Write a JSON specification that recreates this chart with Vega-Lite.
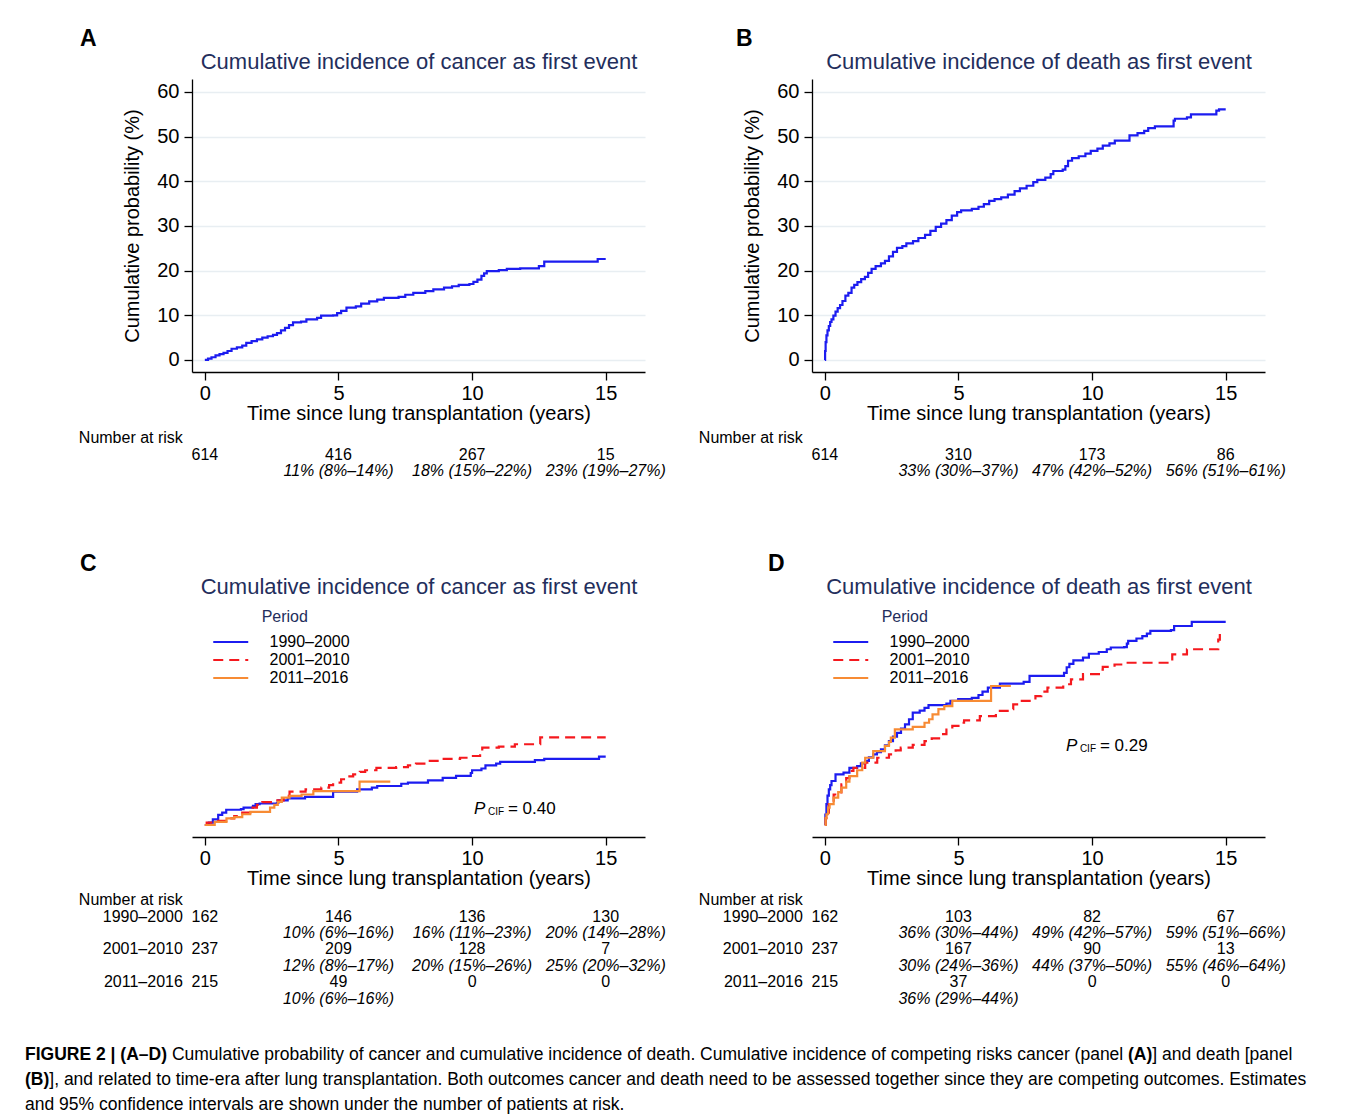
{
  "$schema": "https://vega.github.io/schema/vega-lite/v6.json",
  "background": "white",
  "padding": {"left": 25, "top": 28, "right": 10, "bottom": 0},
  "autosize": {"type": "pad"},
  "columns": 2,
  "spacing": {"row": 0, "column": 167},
  "bounds": "flush",
  "resolve": {"scale": {"x": "independent", "y": "independent", "color": "independent", "strokeDash": "independent"}, "legend": {"color": "independent", "strokeDash": "independent"}},
  "datasets": {
    "curves": [
      {"panel":"A","period":"All","t":0,"p":0},{"panel":"A","period":"All","t":0.12,"p":0.3},{"panel":"A","period":"All","t":0.25,"p":0.6},{"panel":"A","period":"All","t":0.4,"p":1.0},{"panel":"A","period":"All","t":0.55,"p":1.3},{"panel":"A","period":"All","t":0.7,"p":1.6},{"panel":"A","period":"All","t":0.85,"p":2.0},{"panel":"A","period":"All","t":1.0,"p":2.5},{"panel":"A","period":"All","t":1.2,"p":2.8},{"panel":"A","period":"All","t":1.4,"p":3.2},{"panel":"A","period":"All","t":1.55,"p":3.8},{"panel":"A","period":"All","t":1.75,"p":4.2},{"panel":"A","period":"All","t":1.95,"p":4.6},{"panel":"A","period":"All","t":2.15,"p":5.0},{"panel":"A","period":"All","t":2.35,"p":5.3},{"panel":"A","period":"All","t":2.55,"p":5.6},{"panel":"A","period":"All","t":2.7,"p":6.0},{"panel":"A","period":"All","t":2.85,"p":6.6},{"panel":"A","period":"All","t":3.0,"p":7.2},{"panel":"A","period":"All","t":3.15,"p":7.8},{"panel":"A","period":"All","t":3.3,"p":8.4},{"panel":"A","period":"All","t":3.6,"p":8.6},{"panel":"A","period":"All","t":3.8,"p":9.1},{"panel":"A","period":"All","t":4.2,"p":9.4},{"panel":"A","period":"All","t":4.35,"p":9.9},{"panel":"A","period":"All","t":4.8,"p":10.0},{"panel":"A","period":"All","t":4.95,"p":10.5},{"panel":"A","period":"All","t":5.1,"p":11.0},{"panel":"A","period":"All","t":5.3,"p":11.7},{"panel":"A","period":"All","t":5.65,"p":12.0},{"panel":"A","period":"All","t":5.85,"p":12.6},{"panel":"A","period":"All","t":6.15,"p":13.1},{"panel":"A","period":"All","t":6.45,"p":13.5},{"panel":"A","period":"All","t":6.7,"p":13.9},{"panel":"A","period":"All","t":7.25,"p":14.1},{"panel":"A","period":"All","t":7.5,"p":14.6},{"panel":"A","period":"All","t":7.8,"p":15.0},{"panel":"A","period":"All","t":8.25,"p":15.4},{"panel":"A","period":"All","t":8.55,"p":15.8},{"panel":"A","period":"All","t":8.95,"p":16.2},{"panel":"A","period":"All","t":9.25,"p":16.5},{"panel":"A","period":"All","t":9.5,"p":16.8},{"panel":"A","period":"All","t":9.9,"p":17.0},{"panel":"A","period":"All","t":10.05,"p":17.5},{"panel":"A","period":"All","t":10.2,"p":18.0},{"panel":"A","period":"All","t":10.35,"p":18.8},{"panel":"A","period":"All","t":10.45,"p":19.4},{"panel":"A","period":"All","t":10.55,"p":19.9},{"panel":"A","period":"All","t":11.0,"p":20.1},{"panel":"A","period":"All","t":11.3,"p":20.4},{"panel":"A","period":"All","t":11.8,"p":20.5},{"panel":"A","period":"All","t":12.5,"p":21.0},{"panel":"A","period":"All","t":12.7,"p":22.0},{"panel":"A","period":"All","t":14.7,"p":22.6},{"panel":"A","period":"All","t":15.0,"p":22.6},
      {"panel":"B","period":"All","t":0,"p":0},{"panel":"B","period":"All","t":0.01,"p":2.0},{"panel":"B","period":"All","t":0.03,"p":4.0},{"panel":"B","period":"All","t":0.06,"p":5.5},{"panel":"B","period":"All","t":0.1,"p":6.6},{"panel":"B","period":"All","t":0.15,"p":7.6},{"panel":"B","period":"All","t":0.2,"p":8.5},{"panel":"B","period":"All","t":0.25,"p":9.1},{"panel":"B","period":"All","t":0.32,"p":9.9},{"panel":"B","period":"All","t":0.4,"p":10.8},{"panel":"B","period":"All","t":0.48,"p":11.6},{"panel":"B","period":"All","t":0.57,"p":12.3},{"panel":"B","period":"All","t":0.66,"p":13.2},{"panel":"B","period":"All","t":0.77,"p":14.4},{"panel":"B","period":"All","t":0.88,"p":15.0},{"panel":"B","period":"All","t":1.0,"p":16.2},{"panel":"B","period":"All","t":1.1,"p":16.8},{"panel":"B","period":"All","t":1.22,"p":17.4},{"panel":"B","period":"All","t":1.36,"p":18.1},{"panel":"B","period":"All","t":1.5,"p":18.6},{"panel":"B","period":"All","t":1.62,"p":19.5},{"panel":"B","period":"All","t":1.75,"p":20.4},{"panel":"B","period":"All","t":1.9,"p":21.0},{"panel":"B","period":"All","t":2.1,"p":21.6},{"panel":"B","period":"All","t":2.25,"p":22.2},{"panel":"B","period":"All","t":2.4,"p":23.2},{"panel":"B","period":"All","t":2.55,"p":24.2},{"panel":"B","period":"All","t":2.7,"p":25.1},{"panel":"B","period":"All","t":2.9,"p":25.5},{"panel":"B","period":"All","t":3.05,"p":26.1},{"panel":"B","period":"All","t":3.3,"p":26.6},{"panel":"B","period":"All","t":3.5,"p":27.3},{"panel":"B","period":"All","t":3.75,"p":28.0},{"panel":"B","period":"All","t":3.95,"p":28.9},{"panel":"B","period":"All","t":4.15,"p":29.8},{"panel":"B","period":"All","t":4.35,"p":30.5},{"panel":"B","period":"All","t":4.55,"p":31.3},{"panel":"B","period":"All","t":4.75,"p":32.3},{"panel":"B","period":"All","t":4.95,"p":33.1},{"panel":"B","period":"All","t":5.1,"p":33.5},{"panel":"B","period":"All","t":5.5,"p":33.8},{"panel":"B","period":"All","t":5.75,"p":34.3},{"panel":"B","period":"All","t":5.95,"p":34.9},{"panel":"B","period":"All","t":6.15,"p":35.6},{"panel":"B","period":"All","t":6.35,"p":36.0},{"panel":"B","period":"All","t":6.6,"p":36.4},{"panel":"B","period":"All","t":6.85,"p":37.0},{"panel":"B","period":"All","t":7.1,"p":37.8},{"panel":"B","period":"All","t":7.3,"p":38.4},{"panel":"B","period":"All","t":7.55,"p":39.0},{"panel":"B","period":"All","t":7.8,"p":39.8},{"panel":"B","period":"All","t":7.95,"p":40.3},{"panel":"B","period":"All","t":8.25,"p":40.8},{"panel":"B","period":"All","t":8.45,"p":41.6},{"panel":"B","period":"All","t":8.55,"p":42.3},{"panel":"B","period":"All","t":8.9,"p":42.6},{"panel":"B","period":"All","t":9.0,"p":43.4},{"panel":"B","period":"All","t":9.1,"p":44.6},{"panel":"B","period":"All","t":9.25,"p":45.2},{"panel":"B","period":"All","t":9.5,"p":45.6},{"panel":"B","period":"All","t":9.75,"p":46.2},{"panel":"B","period":"All","t":9.95,"p":46.8},{"panel":"B","period":"All","t":10.2,"p":47.3},{"panel":"B","period":"All","t":10.4,"p":48.0},{"panel":"B","period":"All","t":10.65,"p":48.5},{"panel":"B","period":"All","t":10.85,"p":49.1},{"panel":"B","period":"All","t":11.4,"p":50.3},{"panel":"B","period":"All","t":11.7,"p":50.8},{"panel":"B","period":"All","t":11.95,"p":51.3},{"panel":"B","period":"All","t":12.1,"p":51.9},{"panel":"B","period":"All","t":12.35,"p":52.3},{"panel":"B","period":"All","t":13.05,"p":53.6},{"panel":"B","period":"All","t":13.1,"p":54.0},{"panel":"B","period":"All","t":13.55,"p":54.3},{"panel":"B","period":"All","t":13.7,"p":55.0},{"panel":"B","period":"All","t":14.65,"p":55.8},{"panel":"B","period":"All","t":14.75,"p":56.1},{"panel":"B","period":"All","t":15.0,"p":56.1},
      {"panel":"C","period":"1990–2000","t":0,"p":0},{"panel":"C","period":"1990–2000","t":0.15,"p":0.7},{"panel":"C","period":"1990–2000","t":0.3,"p":1.6},{"panel":"C","period":"1990–2000","t":0.5,"p":2.9},{"panel":"C","period":"1990–2000","t":0.65,"p":3.6},{"panel":"C","period":"1990–2000","t":0.8,"p":4.4},{"panel":"C","period":"1990–2000","t":1.35,"p":4.6},{"panel":"C","period":"1990–2000","t":1.45,"p":5.0},{"panel":"C","period":"1990–2000","t":1.8,"p":5.5},{"panel":"C","period":"1990–2000","t":1.9,"p":6.0},{"panel":"C","period":"1990–2000","t":2.05,"p":6.2},{"panel":"C","period":"1990–2000","t":2.7,"p":6.4},{"panel":"C","period":"1990–2000","t":2.75,"p":7.1},{"panel":"C","period":"1990–2000","t":3.1,"p":7.7},{"panel":"C","period":"1990–2000","t":3.75,"p":8.1},{"panel":"C","period":"1990–2000","t":4.8,"p":9.6},{"panel":"C","period":"1990–2000","t":5.7,"p":10.3},{"panel":"C","period":"1990–2000","t":6.25,"p":10.8},{"panel":"C","period":"1990–2000","t":6.45,"p":11.25},{"panel":"C","period":"1990–2000","t":7.35,"p":11.9},{"panel":"C","period":"1990–2000","t":7.6,"p":12.2},{"panel":"C","period":"1990–2000","t":8.35,"p":12.9},{"panel":"C","period":"1990–2000","t":8.9,"p":13.6},{"panel":"C","period":"1990–2000","t":9.4,"p":14.2},{"panel":"C","period":"1990–2000","t":9.95,"p":15.0},{"panel":"C","period":"1990–2000","t":10.0,"p":15.8},{"panel":"C","period":"1990–2000","t":10.35,"p":16.3},{"panel":"C","period":"1990–2000","t":10.5,"p":17.2},{"panel":"C","period":"1990–2000","t":10.9,"p":17.7},{"panel":"C","period":"1990–2000","t":11.05,"p":18.2},{"panel":"C","period":"1990–2000","t":12.35,"p":18.7},{"panel":"C","period":"1990–2000","t":12.7,"p":19.1},{"panel":"C","period":"1990–2000","t":14.75,"p":19.7},{"panel":"C","period":"1990–2000","t":15.0,"p":19.7},
      {"panel":"C","period":"2001–2010","t":0,"p":0},{"panel":"C","period":"2001–2010","t":0.07,"p":0.7},{"panel":"C","period":"2001–2010","t":0.5,"p":1.2},{"panel":"C","period":"2001–2010","t":0.8,"p":1.9},{"panel":"C","period":"2001–2010","t":1.1,"p":2.6},{"panel":"C","period":"2001–2010","t":1.4,"p":3.6},{"panel":"C","period":"2001–2010","t":1.7,"p":5.0},{"panel":"C","period":"2001–2010","t":1.95,"p":5.8},{"panel":"C","period":"2001–2010","t":2.15,"p":6.6},{"panel":"C","period":"2001–2010","t":2.6,"p":7.1},{"panel":"C","period":"2001–2010","t":2.95,"p":8.4},{"panel":"C","period":"2001–2010","t":3.17,"p":9.6},{"panel":"C","period":"2001–2010","t":3.77,"p":10.3},{"panel":"C","period":"2001–2010","t":4.36,"p":10.8},{"panel":"C","period":"2001–2010","t":4.65,"p":11.5},{"panel":"C","period":"2001–2010","t":4.8,"p":12.2},{"panel":"C","period":"2001–2010","t":5.1,"p":13.2},{"panel":"C","period":"2001–2010","t":5.35,"p":14.0},{"panel":"C","period":"2001–2010","t":5.55,"p":14.6},{"panel":"C","period":"2001–2010","t":5.8,"p":15.3},{"panel":"C","period":"2001–2010","t":6.0,"p":15.8},{"panel":"C","period":"2001–2010","t":6.42,"p":16.5},{"panel":"C","period":"2001–2010","t":7.16,"p":16.7},{"panel":"C","period":"2001–2010","t":7.6,"p":17.2},{"panel":"C","period":"2001–2010","t":7.9,"p":17.7},{"panel":"C","period":"2001–2010","t":8.35,"p":18.5},{"panel":"C","period":"2001–2010","t":8.8,"p":19.1},{"panel":"C","period":"2001–2010","t":9.55,"p":19.4},{"panel":"C","period":"2001–2010","t":9.97,"p":19.9},{"panel":"C","period":"2001–2010","t":10.3,"p":21.2},{"panel":"C","period":"2001–2010","t":10.38,"p":22.3},{"panel":"C","period":"2001–2010","t":11.0,"p":22.6},{"panel":"C","period":"2001–2010","t":11.6,"p":23.3},{"panel":"C","period":"2001–2010","t":12.55,"p":25.3},{"panel":"C","period":"2001–2010","t":15.0,"p":25.3},
      {"panel":"C","period":"2011–2016","t":0,"p":0},{"panel":"C","period":"2011–2016","t":0.37,"p":0.9},{"panel":"C","period":"2011–2016","t":0.81,"p":1.9},{"panel":"C","period":"2011–2016","t":1.1,"p":2.3},{"panel":"C","period":"2011–2016","t":1.4,"p":3.1},{"panel":"C","period":"2011–2016","t":1.7,"p":3.8},{"panel":"C","period":"2011–2016","t":2.44,"p":5.0},{"panel":"C","period":"2011–2016","t":2.6,"p":5.8},{"panel":"C","period":"2011–2016","t":2.73,"p":6.7},{"panel":"C","period":"2011–2016","t":2.88,"p":7.9},{"panel":"C","period":"2011–2016","t":3.17,"p":8.4},{"panel":"C","period":"2011–2016","t":3.62,"p":8.8},{"panel":"C","period":"2011–2016","t":4.06,"p":9.8},{"panel":"C","period":"2011–2016","t":5.79,"p":12.5},{"panel":"C","period":"2011–2016","t":6.94,"p":12.5},
      {"panel":"D","period":"1990–2000","t":0,"p":0},{"panel":"D","period":"1990–2000","t":0.02,"p":3.0},{"panel":"D","period":"1990–2000","t":0.06,"p":6.0},{"panel":"D","period":"1990–2000","t":0.1,"p":8.5},{"panel":"D","period":"1990–2000","t":0.15,"p":10.3},{"panel":"D","period":"1990–2000","t":0.2,"p":11.5},{"panel":"D","period":"1990–2000","t":0.25,"p":12.7},{"panel":"D","period":"1990–2000","t":0.4,"p":14.6},{"panel":"D","period":"1990–2000","t":0.7,"p":15.1},{"panel":"D","period":"1990–2000","t":0.92,"p":16.5},{"panel":"D","period":"1990–2000","t":1.21,"p":17.0},{"panel":"D","period":"1990–2000","t":1.35,"p":17.8},{"panel":"D","period":"1990–2000","t":1.51,"p":18.5},{"panel":"D","period":"1990–2000","t":1.65,"p":19.5},{"panel":"D","period":"1990–2000","t":1.81,"p":20.4},{"panel":"D","period":"1990–2000","t":1.95,"p":21.0},{"panel":"D","period":"1990–2000","t":2.1,"p":21.8},{"panel":"D","period":"1990–2000","t":2.25,"p":23.0},{"panel":"D","period":"1990–2000","t":2.4,"p":24.2},{"panel":"D","period":"1990–2000","t":2.55,"p":25.5},{"panel":"D","period":"1990–2000","t":2.7,"p":26.6},{"panel":"D","period":"1990–2000","t":2.85,"p":27.8},{"panel":"D","period":"1990–2000","t":3.0,"p":29.0},{"panel":"D","period":"1990–2000","t":3.15,"p":30.5},{"panel":"D","period":"1990–2000","t":3.29,"p":32.4},{"panel":"D","period":"1990–2000","t":3.55,"p":33.0},{"panel":"D","period":"1990–2000","t":3.73,"p":33.8},{"panel":"D","period":"1990–2000","t":3.88,"p":34.6},{"panel":"D","period":"1990–2000","t":4.55,"p":35.0},{"panel":"D","period":"1990–2000","t":4.7,"p":35.8},{"panel":"D","period":"1990–2000","t":4.99,"p":36.3},{"panel":"D","period":"1990–2000","t":5.5,"p":36.7},{"panel":"D","period":"1990–2000","t":5.75,"p":37.5},{"panel":"D","period":"1990–2000","t":5.9,"p":38.5},{"panel":"D","period":"1990–2000","t":6.1,"p":39.6},{"panel":"D","period":"1990–2000","t":6.55,"p":40.8},{"panel":"D","period":"1990–2000","t":7.44,"p":41.3},{"panel":"D","period":"1990–2000","t":7.66,"p":43.0},{"panel":"D","period":"1990–2000","t":8.95,"p":43.9},{"panel":"D","period":"1990–2000","t":9.05,"p":45.5},{"panel":"D","period":"1990–2000","t":9.15,"p":46.5},{"panel":"D","period":"1990–2000","t":9.3,"p":47.5},{"panel":"D","period":"1990–2000","t":9.66,"p":48.3},{"panel":"D","period":"1990–2000","t":9.88,"p":49.4},{"panel":"D","period":"1990–2000","t":10.25,"p":49.9},{"panel":"D","period":"1990–2000","t":10.55,"p":50.7},{"panel":"D","period":"1990–2000","t":10.7,"p":51.2},{"panel":"D","period":"1990–2000","t":11.2,"p":51.3},{"panel":"D","period":"1990–2000","t":11.3,"p":52.3},{"panel":"D","period":"1990–2000","t":11.35,"p":53.1},{"panel":"D","period":"1990–2000","t":11.66,"p":53.8},{"panel":"D","period":"1990–2000","t":11.88,"p":54.5},{"panel":"D","period":"1990–2000","t":12.05,"p":55.2},{"panel":"D","period":"1990–2000","t":12.18,"p":56.0},{"panel":"D","period":"1990–2000","t":12.95,"p":56.2},{"panel":"D","period":"1990–2000","t":13.07,"p":57.4},{"panel":"D","period":"1990–2000","t":13.73,"p":58.6},{"panel":"D","period":"1990–2000","t":15.0,"p":58.6},
      {"panel":"D","period":"2001–2010","t":0,"p":0},{"panel":"D","period":"2001–2010","t":0.03,"p":2.0},{"panel":"D","period":"2001–2010","t":0.06,"p":3.6},{"panel":"D","period":"2001–2010","t":0.15,"p":6.0},{"panel":"D","period":"2001–2010","t":0.33,"p":8.8},{"panel":"D","period":"2001–2010","t":0.62,"p":11.7},{"panel":"D","period":"2001–2010","t":0.8,"p":13.5},{"panel":"D","period":"2001–2010","t":0.92,"p":15.6},{"panel":"D","period":"2001–2010","t":1.07,"p":16.5},{"panel":"D","period":"2001–2010","t":1.51,"p":18.0},{"panel":"D","period":"2001–2010","t":1.96,"p":19.4},{"panel":"D","period":"2001–2010","t":2.4,"p":20.4},{"panel":"D","period":"2001–2010","t":2.65,"p":21.5},{"panel":"D","period":"2001–2010","t":2.84,"p":22.3},{"panel":"D","period":"2001–2010","t":3.29,"p":23.1},{"panel":"D","period":"2001–2010","t":3.73,"p":24.2},{"panel":"D","period":"2001–2010","t":4.0,"p":25.0},{"panel":"D","period":"2001–2010","t":4.33,"p":26.2},{"panel":"D","period":"2001–2010","t":4.55,"p":27.5},{"panel":"D","period":"2001–2010","t":4.77,"p":28.6},{"panel":"D","period":"2001–2010","t":5.0,"p":29.5},{"panel":"D","period":"2001–2010","t":5.21,"p":30.2},{"panel":"D","period":"2001–2010","t":5.8,"p":31.4},{"panel":"D","period":"2001–2010","t":6.4,"p":32.9},{"panel":"D","period":"2001–2010","t":6.84,"p":33.4},{"panel":"D","period":"2001–2010","t":7.05,"p":34.8},{"panel":"D","period":"2001–2010","t":7.29,"p":35.8},{"panel":"D","period":"2001–2010","t":7.88,"p":37.2},{"panel":"D","period":"2001–2010","t":8.1,"p":38.5},{"panel":"D","period":"2001–2010","t":8.33,"p":39.6},{"panel":"D","period":"2001–2010","t":8.92,"p":40.6},{"panel":"D","period":"2001–2010","t":9.21,"p":42.0},{"panel":"D","period":"2001–2010","t":9.66,"p":43.5},{"panel":"D","period":"2001–2010","t":10.3,"p":44.8},{"panel":"D","period":"2001–2010","t":10.4,"p":45.6},{"panel":"D","period":"2001–2010","t":10.84,"p":46.3},{"panel":"D","period":"2001–2010","t":11.29,"p":46.8},{"panel":"D","period":"2001–2010","t":13.0,"p":49.2},{"panel":"D","period":"2001–2010","t":13.55,"p":50.7},{"panel":"D","period":"2001–2010","t":14.72,"p":53.5},{"panel":"D","period":"2001–2010","t":14.78,"p":55.2},
      {"panel":"D","period":"2011–2016","t":0,"p":0},{"panel":"D","period":"2011–2016","t":0.03,"p":2.0},{"panel":"D","period":"2011–2016","t":0.06,"p":3.1},{"panel":"D","period":"2011–2016","t":0.12,"p":5.0},{"panel":"D","period":"2011–2016","t":0.18,"p":6.0},{"panel":"D","period":"2011–2016","t":0.33,"p":7.9},{"panel":"D","period":"2011–2016","t":0.5,"p":9.5},{"panel":"D","period":"2011–2016","t":0.62,"p":10.8},{"panel":"D","period":"2011–2016","t":0.8,"p":12.5},{"panel":"D","period":"2011–2016","t":0.92,"p":14.1},{"panel":"D","period":"2011–2016","t":1.21,"p":15.8},{"panel":"D","period":"2011–2016","t":1.4,"p":18.0},{"panel":"D","period":"2011–2016","t":1.51,"p":19.4},{"panel":"D","period":"2011–2016","t":1.81,"p":21.3},{"panel":"D","period":"2011–2016","t":2.25,"p":22.8},{"panel":"D","period":"2011–2016","t":2.4,"p":24.0},{"panel":"D","period":"2011–2016","t":2.47,"p":25.2},{"panel":"D","period":"2011–2016","t":2.62,"p":27.6},{"panel":"D","period":"2011–2016","t":3.29,"p":28.3},{"panel":"D","period":"2011–2016","t":3.73,"p":29.5},{"panel":"D","period":"2011–2016","t":3.9,"p":30.5},{"panel":"D","period":"2011–2016","t":4.03,"p":31.9},{"panel":"D","period":"2011–2016","t":4.25,"p":33.4},{"panel":"D","period":"2011–2016","t":4.47,"p":34.3},{"panel":"D","period":"2011–2016","t":4.77,"p":35.8},{"panel":"D","period":"2011–2016","t":6.22,"p":40.1},{"panel":"D","period":"2011–2016","t":6.92,"p":40.4}
    ],
    "notes": [
      {"panel":"C","t":10.07,"p":4.6,"pval":"= 0.40"},
      {"panel":"D","t":9.02,"p":22.8,"pval":"= 0.29"}
    ],
    "risk": [
      {"panel":"A","r":4,"t":0,"k":"nar","txt":"Number at risk"},
      {"panel":"A","r":5,"t":0,"k":"num","txt":"614"},{"panel":"A","r":5,"t":5,"k":"num","txt":"416"},{"panel":"A","r":5,"t":10,"k":"num","txt":"267"},{"panel":"A","r":5,"t":15,"k":"num","txt":"15"},
      {"panel":"A","r":6,"t":5,"k":"est","txt":"11% (8%–14%)"},{"panel":"A","r":6,"t":10,"k":"est","txt":"18% (15%–22%)"},{"panel":"A","r":6,"t":15,"k":"est","txt":"23% (19%–27%)"},
      {"panel":"B","r":4,"t":0,"k":"nar","txt":"Number at risk"},
      {"panel":"B","r":5,"t":0,"k":"num","txt":"614"},{"panel":"B","r":5,"t":5,"k":"num","txt":"310"},{"panel":"B","r":5,"t":10,"k":"num","txt":"173"},{"panel":"B","r":5,"t":15,"k":"num","txt":"86"},
      {"panel":"B","r":6,"t":5,"k":"est","txt":"33% (30%–37%)"},{"panel":"B","r":6,"t":10,"k":"est","txt":"47% (42%–52%)"},{"panel":"B","r":6,"t":15,"k":"est","txt":"56% (51%–61%)"},
      {"panel":"C","r":4,"t":0,"k":"nar","txt":"Number at risk"},
      {"panel":"C","r":5,"t":0,"k":"lab","txt":"1990–2000"},{"panel":"C","r":5,"t":0,"k":"num","txt":"162"},{"panel":"C","r":5,"t":5,"k":"num","txt":"146"},{"panel":"C","r":5,"t":10,"k":"num","txt":"136"},{"panel":"C","r":5,"t":15,"k":"num","txt":"130"},
      {"panel":"C","r":6,"t":5,"k":"est","txt":"10% (6%–16%)"},{"panel":"C","r":6,"t":10,"k":"est","txt":"16% (11%–23%)"},{"panel":"C","r":6,"t":15,"k":"est","txt":"20% (14%–28%)"},
      {"panel":"C","r":7,"t":0,"k":"lab","txt":"2001–2010"},{"panel":"C","r":7,"t":0,"k":"num","txt":"237"},{"panel":"C","r":7,"t":5,"k":"num","txt":"209"},{"panel":"C","r":7,"t":10,"k":"num","txt":"128"},{"panel":"C","r":7,"t":15,"k":"num","txt":"7"},
      {"panel":"C","r":8,"t":5,"k":"est","txt":"12% (8%–17%)"},{"panel":"C","r":8,"t":10,"k":"est","txt":"20% (15%–26%)"},{"panel":"C","r":8,"t":15,"k":"est","txt":"25% (20%–32%)"},
      {"panel":"C","r":9,"t":0,"k":"lab","txt":"2011–2016"},{"panel":"C","r":9,"t":0,"k":"num","txt":"215"},{"panel":"C","r":9,"t":5,"k":"num","txt":"49"},{"panel":"C","r":9,"t":10,"k":"num","txt":"0"},{"panel":"C","r":9,"t":15,"k":"num","txt":"0"},
      {"panel":"C","r":10,"t":5,"k":"est","txt":"10% (6%–16%)"},
      {"panel":"D","r":4,"t":0,"k":"nar","txt":"Number at risk"},
      {"panel":"D","r":5,"t":0,"k":"lab","txt":"1990–2000"},{"panel":"D","r":5,"t":0,"k":"num","txt":"162"},{"panel":"D","r":5,"t":5,"k":"num","txt":"103"},{"panel":"D","r":5,"t":10,"k":"num","txt":"82"},{"panel":"D","r":5,"t":15,"k":"num","txt":"67"},
      {"panel":"D","r":6,"t":5,"k":"est","txt":"36% (30%–44%)"},{"panel":"D","r":6,"t":10,"k":"est","txt":"49% (42%–57%)"},{"panel":"D","r":6,"t":15,"k":"est","txt":"59% (51%–66%)"},
      {"panel":"D","r":7,"t":0,"k":"lab","txt":"2001–2010"},{"panel":"D","r":7,"t":0,"k":"num","txt":"237"},{"panel":"D","r":7,"t":5,"k":"num","txt":"167"},{"panel":"D","r":7,"t":10,"k":"num","txt":"90"},{"panel":"D","r":7,"t":15,"k":"num","txt":"13"},
      {"panel":"D","r":8,"t":5,"k":"est","txt":"30% (24%–36%)"},{"panel":"D","r":8,"t":10,"k":"est","txt":"44% (37%–50%)"},{"panel":"D","r":8,"t":15,"k":"est","txt":"55% (46%–64%)"},
      {"panel":"D","r":9,"t":0,"k":"lab","txt":"2011–2016"},{"panel":"D","r":9,"t":0,"k":"num","txt":"215"},{"panel":"D","r":9,"t":5,"k":"num","txt":"37"},{"panel":"D","r":9,"t":10,"k":"num","txt":"0"},{"panel":"D","r":9,"t":15,"k":"num","txt":"0"},
      {"panel":"D","r":10,"t":5,"k":"est","txt":"36% (29%–44%)"}
    ],
    "caption": [
      {"line":1,"seg":"b1","txt":"FIGURE 2 | (A–D)"},
      {"line":1,"seg":"r1","txt":"Cumulative probability of cancer and cumulative incidence of death. Cumulative incidence of competing risks cancer (panel"},
      {"line":1,"seg":"b2","txt":"(A)"},
      {"line":1,"seg":"r2","txt":"] and death [panel"},
      {"line":2,"seg":"b3","txt":"(B)"},
      {"line":2,"seg":"r3","txt":"], and related to time-era after lung transplantation. Both outcomes cancer and death need to be assessed together since they are competing outcomes. Estimates"},
      {"line":3,"seg":"r4","txt":"and 95% confidence intervals are shown under the number of patients at risk."}
    ]
  },
  "concat": [
    {
      "width": 453, "height": 293,
      "title": {"text": "A", "anchor": "start", "frame": "group", "dx": -112, "fontSize": 23, "fontWeight": "bold", "color": "#000000", "offset": -1},
      "layer": [
        {"data": {"name": "curves"}, "transform": [{"filter": "datum.panel === 'A'"}],
         "mark": {"type": "line", "interpolate": "step-after", "strokeWidth": 2.2, "color": "#1c1cf0"},
         "encoding": {
           "x": {"field": "t", "type": "quantitative", "scale": {"domain": [-0.48, 16.47], "nice": false, "zero": false}, "axis": {"values": [0, 5, 10, 15], "title": "Time since lung transplantation (years)", "grid": false, "labelPadding": 3, "titlePadding": 0, "labelFlush": false}},
           "y": {"field": "p", "type": "quantitative", "scale": {"domain": [-2.7, 62.9], "nice": false, "zero": false}, "axis": {"values": [0, 10, 20, 30, 40, 50, 60], "title": "Cumulative probability (%)", "grid": true, "labelPadding": 5, "titlePadding": 14}}
         }},
        {"data": {"name": "curves"}, "transform": [{"filter": "datum.panel === 'A' && datum.t === 0"}],
         "mark": {"type": "rule", "opacity": 0},
         "encoding": {"x": {"field": "t", "type": "quantitative", "axis": {"orient": "top", "title": "Cumulative incidence of cancer as first event", "labels": false, "ticks": false, "domain": false, "grid": false, "titleFontSize": 22, "titleColor": "#232e5c", "titlePadding": 6}}}}
      ],
      "resolve": {"axis": {"x": "independent"}}
    },
    {
      "width": 453, "height": 293,
      "title": {"text": "B", "anchor": "start", "frame": "group", "dx": -76, "fontSize": 23, "fontWeight": "bold", "color": "#000000", "offset": -1},
      "layer": [
        {"data": {"name": "curves"}, "transform": [{"filter": "datum.panel === 'B'"}],
         "mark": {"type": "line", "interpolate": "step-after", "strokeWidth": 2.2, "color": "#1c1cf0"},
         "encoding": {
           "x": {"field": "t", "type": "quantitative", "scale": {"domain": [-0.48, 16.47], "nice": false, "zero": false}, "axis": {"values": [0, 5, 10, 15], "title": "Time since lung transplantation (years)", "grid": false, "labelPadding": 3, "titlePadding": 0, "labelFlush": false}},
           "y": {"field": "p", "type": "quantitative", "scale": {"domain": [-2.7, 62.9], "nice": false, "zero": false}, "axis": {"values": [0, 10, 20, 30, 40, 50, 60], "title": "Cumulative probability (%)", "grid": true, "labelPadding": 5, "titlePadding": 14}}
         }},
        {"data": {"name": "curves"}, "transform": [{"filter": "datum.panel === 'B' && datum.t === 0"}],
         "mark": {"type": "rule", "opacity": 0},
         "encoding": {"x": {"field": "t", "type": "quantitative", "axis": {"orient": "top", "title": "Cumulative incidence of death as first event", "labels": false, "ticks": false, "domain": false, "grid": false, "titleFontSize": 22, "titleColor": "#232e5c", "titlePadding": 6}}}}
      ],
      "resolve": {"axis": {"x": "independent"}}
    },
    {
      "width": 453, "height": 232,
      "data": {"name": "risk"},
      "transform": [{"filter": "datum.panel === 'A'"}],
      "encoding": {
        "x": {"field": "t", "type": "quantitative", "scale": {"domain": [-0.48, 16.47], "nice": false, "zero": false}, "axis": null},
        "y": {"field": "r", "type": "quantitative", "scale": {"domain": [-0.05, 14.096], "reverse": true, "nice": false, "zero": false}, "axis": null},
        "text": {"field": "txt"}
      },
      "layer": [
        {"transform": [{"filter": "datum.k === 'nar'"}], "mark": {"type": "text", "align": "left", "baseline": "middle", "dx": -126, "fontSize": 16}},
        {"transform": [{"filter": "datum.k === 'lab'"}], "mark": {"type": "text", "align": "right", "baseline": "middle", "dx": -22, "fontSize": 16}},
        {"transform": [{"filter": "datum.k === 'num'"}], "mark": {"type": "text", "align": "center", "baseline": "middle", "fontSize": 16}},
        {"transform": [{"filter": "datum.k === 'est'"}], "mark": {"type": "text", "align": "center", "baseline": "middle", "fontSize": 16, "fontStyle": "italic"}}
      ]
    },
    {
      "width": 453, "height": 232,
      "data": {"name": "risk"},
      "transform": [{"filter": "datum.panel === 'B'"}],
      "encoding": {
        "x": {"field": "t", "type": "quantitative", "scale": {"domain": [-0.48, 16.47], "nice": false, "zero": false}, "axis": null},
        "y": {"field": "r", "type": "quantitative", "scale": {"domain": [-0.05, 14.096], "reverse": true, "nice": false, "zero": false}, "axis": null},
        "text": {"field": "txt"}
      },
      "layer": [
        {"transform": [{"filter": "datum.k === 'nar'"}], "mark": {"type": "text", "align": "left", "baseline": "middle", "dx": -126, "fontSize": 16}},
        {"transform": [{"filter": "datum.k === 'lab'"}], "mark": {"type": "text", "align": "right", "baseline": "middle", "dx": -22, "fontSize": 16}},
        {"transform": [{"filter": "datum.k === 'num'"}], "mark": {"type": "text", "align": "center", "baseline": "middle", "fontSize": 16}},
        {"transform": [{"filter": "datum.k === 'est'"}], "mark": {"type": "text", "align": "center", "baseline": "middle", "fontSize": 16, "fontStyle": "italic"}}
      ]
    },
    {
      "width": 453, "height": 233,
      "title": {"text": "C", "anchor": "start", "frame": "group", "dx": -112, "fontSize": 23, "fontWeight": "bold", "color": "#000000", "offset": -1},
      "layer": [
        {"data": {"name": "curves"}, "transform": [{"filter": "datum.panel === 'C'"}],
         "mark": {"type": "line", "interpolate": "step-after", "strokeWidth": 2.2},
         "encoding": {
           "x": {"field": "t", "type": "quantitative", "scale": {"domain": [-0.48, 16.47], "nice": false, "zero": false}, "axis": {"values": [0, 5, 10, 15], "title": "Time since lung transplantation (years)", "grid": false, "labelPadding": 3, "titlePadding": 0, "labelFlush": false}},
           "y": {"field": "p", "type": "quantitative", "scale": {"domain": [-3.46, 63.75], "nice": false, "zero": false}, "axis": {"values": [0, 10, 20, 30, 40, 50, 60], "title": "Cumulative probability (%)", "grid": true, "labelPadding": 5, "titlePadding": 14}},
           "color": {"field": "period", "type": "nominal", "scale": {"domain": ["1990–2000", "2001–2010", "2011–2016"], "range": ["#1c1cf0", "#f5191e", "#f78b34"]}, "legend": {"title": "Period", "orient": "none", "legendX": 28.75, "legendY": 5}},
           "strokeDash": {"field": "period", "type": "nominal", "scale": {"domain": ["1990–2000", "2001–2010", "2011–2016"], "range": [[1, 0], [10, 6], [1, 0]]}, "legend": {"title": "Period", "orient": "none", "legendX": 28.75, "legendY": 5}}
         }},
        {"data": {"name": "curves"}, "transform": [{"filter": "datum.panel === 'C' && datum.t === 0"}],
         "mark": {"type": "rule", "opacity": 0},
         "encoding": {"x": {"field": "t", "type": "quantitative", "axis": {"orient": "top", "title": "Cumulative incidence of cancer as first event", "labels": false, "ticks": false, "domain": false, "grid": false, "titleFontSize": 22, "titleColor": "#232e5c", "titlePadding": 6}}}},
        {"data": {"name": "notes"}, "transform": [{"filter": "datum.panel === 'C'"}],
         "mark": {"type": "text", "align": "left", "baseline": "middle", "fontSize": 17, "fontStyle": "italic", "text": "P"},
         "encoding": {"x": {"field": "t", "type": "quantitative", "axis": null}, "y": {"field": "p", "type": "quantitative", "axis": null}}},
        {"data": {"name": "notes"}, "transform": [{"filter": "datum.panel === 'C'"}],
         "mark": {"type": "text", "align": "left", "baseline": "middle", "fontSize": 10, "dx": 14, "dy": 3, "text": "CIF"},
         "encoding": {"x": {"field": "t", "type": "quantitative", "axis": null}, "y": {"field": "p", "type": "quantitative", "axis": null}}},
        {"data": {"name": "notes"}, "transform": [{"filter": "datum.panel === 'C'"}],
         "mark": {"type": "text", "align": "left", "baseline": "middle", "fontSize": 17, "dx": 34},
         "encoding": {"x": {"field": "t", "type": "quantitative", "axis": null}, "y": {"field": "p", "type": "quantitative", "axis": null}, "text": {"field": "pval"}}}
      ],
      "resolve": {"axis": {"x": "independent"}}
    },
    {
      "width": 453, "height": 233,
      "title": {"text": "D", "anchor": "start", "frame": "group", "dx": -44, "fontSize": 23, "fontWeight": "bold", "color": "#000000", "offset": -1},
      "layer": [
        {"data": {"name": "curves"}, "transform": [{"filter": "datum.panel === 'D'"}],
         "mark": {"type": "line", "interpolate": "step-after", "strokeWidth": 2.2},
         "encoding": {
           "x": {"field": "t", "type": "quantitative", "scale": {"domain": [-0.48, 16.47], "nice": false, "zero": false}, "axis": {"values": [0, 5, 10, 15], "title": "Time since lung transplantation (years)", "grid": false, "labelPadding": 3, "titlePadding": 0, "labelFlush": false}},
           "y": {"field": "p", "type": "quantitative", "scale": {"domain": [-3.46, 63.75], "nice": false, "zero": false}, "axis": {"values": [0, 10, 20, 30, 40, 50, 60], "title": "Cumulative probability (%)", "grid": true, "labelPadding": 5, "titlePadding": 14}},
           "color": {"field": "period", "type": "nominal", "scale": {"domain": ["1990–2000", "2001–2010", "2011–2016"], "range": ["#1c1cf0", "#f5191e", "#f78b34"]}, "legend": {"title": "Period", "orient": "none", "legendX": 28.75, "legendY": 5}},
           "strokeDash": {"field": "period", "type": "nominal", "scale": {"domain": ["1990–2000", "2001–2010", "2011–2016"], "range": [[1, 0], [10, 6], [1, 0]]}, "legend": {"title": "Period", "orient": "none", "legendX": 28.75, "legendY": 5}}
         }},
        {"data": {"name": "curves"}, "transform": [{"filter": "datum.panel === 'D' && datum.t === 0"}],
         "mark": {"type": "rule", "opacity": 0},
         "encoding": {"x": {"field": "t", "type": "quantitative", "axis": {"orient": "top", "title": "Cumulative incidence of death as first event", "labels": false, "ticks": false, "domain": false, "grid": false, "titleFontSize": 22, "titleColor": "#232e5c", "titlePadding": 6}}}},
        {"data": {"name": "notes"}, "transform": [{"filter": "datum.panel === 'D'"}],
         "mark": {"type": "text", "align": "left", "baseline": "middle", "fontSize": 17, "fontStyle": "italic", "text": "P"},
         "encoding": {"x": {"field": "t", "type": "quantitative", "axis": null}, "y": {"field": "p", "type": "quantitative", "axis": null}}},
        {"data": {"name": "notes"}, "transform": [{"filter": "datum.panel === 'D'"}],
         "mark": {"type": "text", "align": "left", "baseline": "middle", "fontSize": 10, "dx": 14, "dy": 3, "text": "CIF"},
         "encoding": {"x": {"field": "t", "type": "quantitative", "axis": null}, "y": {"field": "p", "type": "quantitative", "axis": null}}},
        {"data": {"name": "notes"}, "transform": [{"filter": "datum.panel === 'D'"}],
         "mark": {"type": "text", "align": "left", "baseline": "middle", "fontSize": 17, "dx": 34},
         "encoding": {"x": {"field": "t", "type": "quantitative", "axis": null}, "y": {"field": "p", "type": "quantitative", "axis": null}, "text": {"field": "pval"}}}
      ],
      "resolve": {"axis": {"x": "independent"}}
    },
    {
      "width": 453, "height": 193,
      "data": {"name": "risk"},
      "transform": [{"filter": "datum.panel === 'C'"}],
      "encoding": {
        "x": {"field": "t", "type": "quantitative", "scale": {"domain": [-0.48, 16.47], "nice": false, "zero": false}, "axis": null},
        "y": {"field": "r", "type": "quantitative", "scale": {"domain": [0.15, 11.918], "reverse": true, "nice": false, "zero": false}, "axis": null},
        "text": {"field": "txt"}
      },
      "layer": [
        {"transform": [{"filter": "datum.k === 'nar'"}], "mark": {"type": "text", "align": "left", "baseline": "middle", "dx": -126, "fontSize": 16}},
        {"transform": [{"filter": "datum.k === 'lab'"}], "mark": {"type": "text", "align": "right", "baseline": "middle", "dx": -22, "fontSize": 16}},
        {"transform": [{"filter": "datum.k === 'num'"}], "mark": {"type": "text", "align": "center", "baseline": "middle", "fontSize": 16}},
        {"transform": [{"filter": "datum.k === 'est'"}], "mark": {"type": "text", "align": "center", "baseline": "middle", "fontSize": 16, "fontStyle": "italic"}}
      ]
    },
    {
      "width": 453, "height": 193,
      "data": {"name": "risk"},
      "transform": [{"filter": "datum.panel === 'D'"}],
      "encoding": {
        "x": {"field": "t", "type": "quantitative", "scale": {"domain": [-0.48, 16.47], "nice": false, "zero": false}, "axis": null},
        "y": {"field": "r", "type": "quantitative", "scale": {"domain": [0.15, 11.918], "reverse": true, "nice": false, "zero": false}, "axis": null},
        "text": {"field": "txt"}
      },
      "layer": [
        {"transform": [{"filter": "datum.k === 'nar'"}], "mark": {"type": "text", "align": "left", "baseline": "middle", "dx": -126, "fontSize": 16}},
        {"transform": [{"filter": "datum.k === 'lab'"}], "mark": {"type": "text", "align": "right", "baseline": "middle", "dx": -22, "fontSize": 16}},
        {"transform": [{"filter": "datum.k === 'num'"}], "mark": {"type": "text", "align": "center", "baseline": "middle", "fontSize": 16}},
        {"transform": [{"filter": "datum.k === 'est'"}], "mark": {"type": "text", "align": "center", "baseline": "middle", "fontSize": 16, "fontStyle": "italic"}}
      ]
    },
    {
      "width": 453, "height": 90,
      "data": {"name": "caption"},
      "encoding": {
        "x": {"datum": 0, "type": "quantitative", "scale": {"domain": [0, 1]}, "axis": null},
        "y": {"field": "line", "type": "quantitative", "scale": {"domain": [0, 3.6], "reverse": true, "nice": false, "zero": false}, "axis": null},
        "text": {"field": "txt"}
      },
      "layer": [
        {"transform": [{"filter": "datum.seg === 'b1'"}], "mark": {"type": "text", "align": "left", "baseline": "middle", "fontSize": 17.5, "fontWeight": "bold", "dx": -167}},
        {"transform": [{"filter": "datum.seg === 'r1'"}], "mark": {"type": "text", "align": "left", "baseline": "middle", "fontSize": 17.5, "dx": -20.1}},
        {"transform": [{"filter": "datum.seg === 'b2'"}], "mark": {"type": "text", "align": "left", "baseline": "middle", "fontSize": 17.5, "fontWeight": "bold", "dx": 936}},
        {"transform": [{"filter": "datum.seg === 'r2'"}], "mark": {"type": "text", "align": "left", "baseline": "middle", "fontSize": 17.5, "dx": 960.3}},
        {"transform": [{"filter": "datum.seg === 'b3'"}], "mark": {"type": "text", "align": "left", "baseline": "middle", "fontSize": 17.5, "fontWeight": "bold", "dx": -167}},
        {"transform": [{"filter": "datum.seg === 'r3'"}], "mark": {"type": "text", "align": "left", "baseline": "middle", "fontSize": 17.5, "dx": -142.7}},
        {"transform": [{"filter": "datum.seg === 'r4'"}], "mark": {"type": "text", "align": "left", "baseline": "middle", "fontSize": 17.5, "dx": -167}}
      ]
    }
  ],
  "config": {
    "view": {"stroke": null},
    "font": "Liberation Sans",
    "text": {"font": "Liberation Sans", "color": "#000000"},
    "title": {"font": "Liberation Sans"},
    "axis": {
      "labelFont": "Liberation Sans", "titleFont": "Liberation Sans",
      "labelFontSize": 20, "titleFontSize": 20, "labelColor": "#000000", "titleColor": "#000000", "titleFontWeight": "normal",
      "domainColor": "#000000", "tickColor": "#000000", "domainWidth": 1.3, "tickWidth": 1.3, "tickSize": 8,
      "gridColor": "#e8eef2", "gridWidth": 1.5
    },
    "legend": {
      "labelFont": "Liberation Sans", "titleFont": "Liberation Sans",
      "titleFontSize": 16, "titleFontWeight": "normal", "titleColor": "#232e5c", "titleAnchor": "middle", "titlePadding": 7,
      "labelFontSize": 16, "labelColor": "#000000", "labelOffset": 28.75,
      "symbolType": "M-2,0H2", "symbolSize": 306, "symbolStrokeWidth": 2.2, "rowPadding": -1
    }
  }
}
